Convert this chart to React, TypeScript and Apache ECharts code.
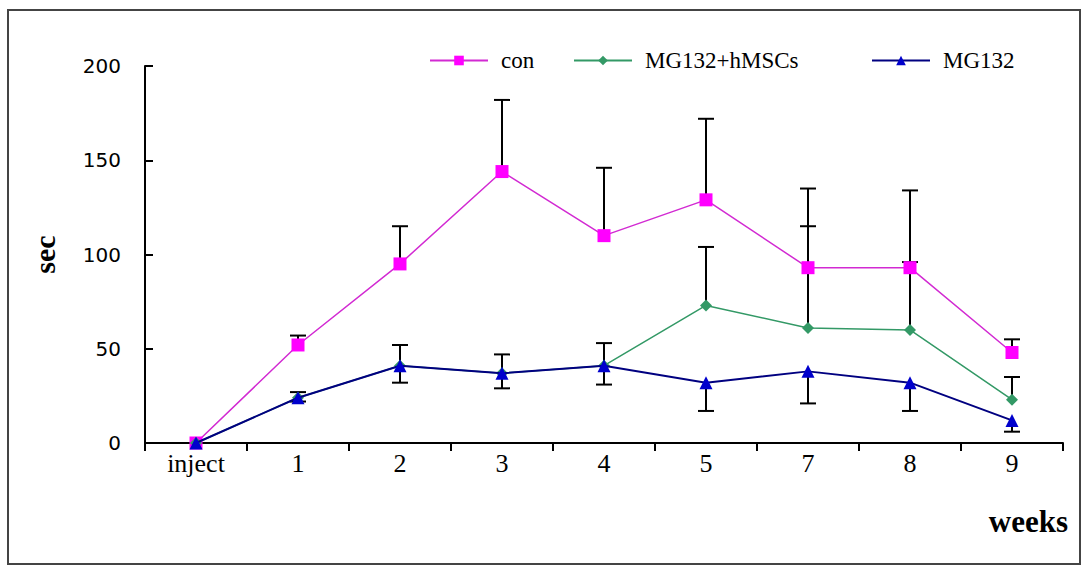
import React, { useEffect, useRef } from "react";
import * as echarts from "echarts";

const weeks = ["inject", "1", "2", "3", "4", "5", "7", "8", "9"];
const conMean = [0, 52, 95, 144, 110, 129, 93, 93, 48];
const conUpper = [0, 57, 115, 182, 146, 172, 135, 134, 55];
const comboMean = [0, 24, 41, 37, 41, 73, 61, 60, 23];
const comboUpper = [0, 27, 52, 47, 53, 104, 115, 96, 35];
const mgMean = [0, 24, 41, 37, 41, 32, 38, 32, 12];
const mgLower = [0, 22, 32, 29, 31, 17, 21, 17, 6];
const yTicks = [0, 50, 100, 150, 200];

const seriesNames = ["con", "MG132+hMSCs", "MG132"];

function errData(mean: number[], bound: number[]) {
  const out: number[][] = [];
  mean.forEach((m, i) => {
    if (bound[i] !== m) out.push([i, m, bound[i]]);
  });
  return out;
}

function errRender(params: any, api: any) {
  const x = api.value(0);
  const v = api.value(1);
  const e = api.value(2);
  const p1 = api.coord([x, v]);
  const p2 = api.coord([x, e]);
  const cap = 8;
  const st = { stroke: "#000", lineWidth: 2 };
  return {
    type: "group",
    children: [
      { type: "line", shape: { x1: p1[0], y1: p1[1], x2: p2[0], y2: p2[1] }, style: st },
      { type: "line", shape: { x1: p2[0] - cap, y1: p2[1], x2: p2[0] + cap, y2: p2[1] }, style: st },
    ],
  };
}

export default function App() {
  const ref = useRef<HTMLDivElement>(null);
  useEffect(() => {
    if (!ref.current) return;
    const chart = echarts.init(ref.current, null, { renderer: "svg" });
    const legendBase = {
      top: 44,
      itemWidth: 58,
      itemHeight: 12,
      textStyle: { fontFamily: "Liberation Serif", fontSize: 23, color: "#000", padding: [0, 0, 0, 8] },
      selectedMode: false,
    };
    chart.setOption({
      animation: false,
      backgroundColor: "#fff",
      legend: [
        { ...legendBase, left: 424, data: [seriesNames[0]] },
        { ...legendBase, left: 568, data: [seriesNames[1]] },
        { ...legendBase, left: 866, data: [seriesNames[2]] },
      ],
      grid: { left: 145, right: 20, top: 66, bottom: 126 },
      xAxis: {
        type: "category",
        data: weeks,
        boundaryGap: true,
        axisLine: { lineStyle: { color: "#000", width: 2 } },
        axisTick: { show: true, inside: false, length: 8, lineStyle: { color: "#000", width: 2 } },
        axisLabel: { fontFamily: "Liberation Serif", fontSize: 26, color: "#000", margin: 7 },
      },
      yAxis: {
        type: "value",
        min: 0,
        max: 200,
        interval: 50,
        name: "sec",
        nameLocation: "middle",
        nameGap: 86,
        nameRotate: 90,
        nameTextStyle: { fontFamily: "Liberation Serif", fontWeight: "bold", fontSize: 30, color: "#000" },
        axisLine: { show: true, lineStyle: { color: "#000", width: 2 } },
        axisTick: { show: true, inside: true, length: 8, lineStyle: { color: "#000", width: 2 } },
        axisLabel: {
          fontFamily: "DejaVu Sans",
          fontSize: 20,
          color: "#000",
          margin: 24,
          formatter: (v: number) => (yTicks.includes(v) ? String(v) : ""),
        },
        splitLine: { show: false },
      },
      graphic: [
        {
          type: "rect",
          shape: { x: 8, y: 10, width: 1072, height: 554 },
          style: { fill: "none", stroke: "#444", lineWidth: 2 },
          silent: true,
        },
        {
          type: "text",
          x: 1068,
          y: 521,
          style: {
            text: "weeks",
            fontFamily: "Liberation Serif",
            fontWeight: "bold",
            fontSize: 31,
            fill: "#000",
            align: "right",
            verticalAlign: "middle",
          },
        },
      ],
      series: [
        {
          type: "custom",
          name: "conErr",
          renderItem: errRender,
          data: errData(conMean, conUpper),
          z: 1,
          silent: true,
        },
        {
          type: "custom",
          name: "comboErr",
          renderItem: errRender,
          data: errData(comboMean, comboUpper),
          z: 1,
          silent: true,
        },
        {
          type: "custom",
          name: "mgErr",
          renderItem: errRender,
          data: errData(mgMean, mgLower),
          z: 1,
          silent: true,
        },
        {
          type: "line",
          name: seriesNames[0],
          data: conMean,
          symbol: "rect",
          symbolSize: 13,
          lineStyle: { color: "#d22ad2", width: 1.5 },
          itemStyle: { color: "#ff00ff" },
          z: 3,
        },
        {
          type: "line",
          name: seriesNames[1],
          data: comboMean,
          symbol: "diamond",
          symbolSize: 12,
          lineStyle: { color: "#339966", width: 1.5 },
          itemStyle: { color: "#339966" },
          z: 3,
        },
        {
          type: "line",
          name: seriesNames[2],
          data: mgMean,
          symbol: "triangle",
          symbolSize: 13,
          lineStyle: { color: "#000080", width: 2 },
          itemStyle: { color: "#0000cc" },
          z: 4,
        },
      ],
    });
    return () => chart.dispose();
  }, []);
  return <div ref={ref} style={{ position: "fixed", left: 0, top: 0, width: 1083, height: 569 }} />;
}
